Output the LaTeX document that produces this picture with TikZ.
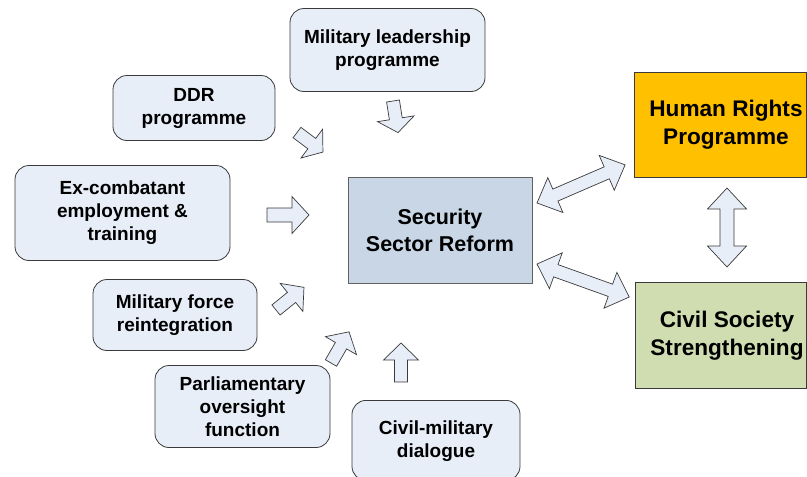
\documentclass[tikz,border=0pt]{standalone}
\usepackage{fontspec}
\setmainfont{Liberation Sans}
\definecolor{boxfill}{HTML}{E8EEF8}
\definecolor{ssrfill}{HTML}{C9D6E6}
\definecolor{hrfill}{HTML}{FFC000}
\definecolor{csfill}{HTML}{D0DDB0}
\definecolor{edge}{HTML}{3A3A3A}
\tikzset{
  smallbox/.style={draw=edge, line width=0.8pt, fill=boxfill, rounded corners=14pt,
    inner sep=0pt, align=center, font=\bfseries\fontsize{19}{23}\selectfont},
  bigbox/.style={draw=edge, line width=0.8pt, inner sep=0pt, align=center},
  bigtext/.style={inner sep=0pt, align=center, font=\bfseries\fontsize{22.6}{28}\selectfont},
  blockarrow/.style={draw=edge, line width=0.7pt, fill=boxfill, line join=miter},
}
% single block arrow: tail, angle, length, shaft width, head width, head length
\newcommand\sarrow[6]{%
  \draw[blockarrow, shift={(#1)}, rotate=#2]
    (0,{-#4/2}) -- ({#3-#6},{-#4/2}) -- ({#3-#6},{-#5/2}) -- (#3,0)
    -- ({#3-#6},{#5/2}) -- ({#3-#6},{#4/2}) -- (0,{#4/2}) -- cycle;}
% double block arrow: first tip, angle, length, shaft width, head width, head length
\newcommand\darrow[6]{%
  \draw[blockarrow, shift={(#1)}, rotate=#2]
    (0,0) -- (#6,{-#5/2}) -- (#6,{-#4/2}) -- ({#3-#6},{-#4/2}) -- ({#3-#6},{-#5/2})
    -- (#3,0) -- ({#3-#6},{#5/2}) -- ({#3-#6},{#4/2}) -- (#6,{#4/2}) -- (#6,{#5/2}) -- cycle;}
\begin{document}
\begin{tikzpicture}[x=1pt,y=-1pt]
\useasboundingbox (0,0) rectangle (807,477);

\node[smallbox, minimum width=195pt, minimum height=83pt] (ml) at (387.5,50) {Military leadership\\programme};
\node[smallbox, minimum width=162pt, minimum height=65pt] (ddr) at (194,108) {DDR\\programme};
\node[smallbox, minimum width=215pt, minimum height=95pt] (ex) at (122.5,213) {Ex-combatant\\employment \&\\training};
\node[smallbox, minimum width=164pt, minimum height=71pt] (mf) at (175,315) {Military force\\reintegration};
\node[smallbox, minimum width=175pt, minimum height=82pt] (po) at (242.5,406.5) {Parliamentary\\oversight\\function};
\node[smallbox, minimum width=168pt, minimum height=80pt, anchor=north] (cm) at (436,400) {};
\node[font=\bfseries\fontsize{19}{23}\selectfont, align=center, inner sep=0pt] (cmt) at (436,441) {Civil-military\\dialogue};

\node[bigbox, fill=ssrfill, draw=edge!80, minimum width=184pt, minimum height=106pt,
  font=\bfseries\fontsize{21.5}{26.5}\selectfont] (ssr) at (440,230.5) {Security\\Sector Reform};
\node[bigbox, fill=hrfill, minimum width=172pt, minimum height=105pt] (hr) at (720,124.5) {};
\node[bigtext] (hrt) at (726,125) {Human Rights\\Programme};
\node[bigbox, fill=csfill, minimum width=171pt, minimum height=106pt] (cs) at (720.5,335) {};
\node[bigtext] (cst) at (727,335.5) {Civil Society\\Strengthening};

\coordinate (a1) at (393,101);
\coordinate (a2) at (297,132.5);
\coordinate (a3) at (267,215);
\coordinate (a4) at (276,310);
\coordinate (a5) at (331,363);
\coordinate (a6) at (401,382);
\coordinate (d1) at (537,203);
\coordinate (d2) at (537,264);
\coordinate (d3) at (727,188);

\sarrow{a1}{-81}{32}{13}{37}{14}
\sarrow{a2}{-37}{32.5}{13}{36}{14}
\sarrow{a3}{0}{42}{14}{37}{17}
\sarrow{a4}{39}{36}{13}{36}{16}
\sarrow{a5}{60}{36}{13}{36}{16}
\sarrow{a6}{90}{39}{13}{35}{17}
\darrow{d1}{23.4}{96}{13}{38}{20}
\darrow{d2}{-19.7}{98}{13}{38}{20}
\darrow{d3}{-90}{79}{14}{39}{21}
\end{tikzpicture}
\end{document}
